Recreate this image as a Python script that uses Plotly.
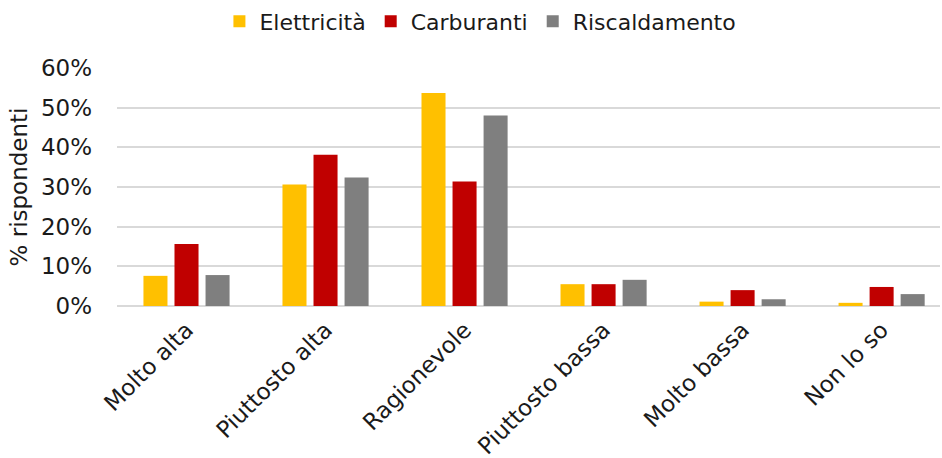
import plotly.graph_objects as go

categories = ["Molto alta", "Piuttosto alta", "Ragionevole", "Piuttosto bassa", "Molto bassa", "Non lo so"]
series_names = ["Elettricità", "Carburanti", "Riscaldamento"]
elettricita = [0.076, 0.306, 0.537, 0.055, 0.011, 0.008]
carburanti = [0.156, 0.381, 0.314, 0.055, 0.040, 0.048]
riscaldamento = [0.078, 0.324, 0.480, 0.066, 0.017, 0.030]
colors = ["#FFC000", "#C00000", "#7F7F7F"]
y_ticks = [0, 0.1, 0.2, 0.3, 0.4, 0.5, 0.6]
y_ticklabels = ["0%", "10%", "20%", "30%", "40%", "50%", "60%"]

FONT = "DejaVu Sans, Liberation Sans, Arial, sans-serif"
FS = 23

fig = go.Figure()
for name, vals, col in zip(series_names, [elettricita, carburanti, riscaldamento], colors):
    fig.add_trace(go.Bar(name=name, x=categories, y=vals, marker=dict(color=col, line=dict(width=0))))

fig.update_layout(
    width=942, height=458,
    paper_bgcolor="white", plot_bgcolor="white",
    margin=dict(l=117, r=2, t=68, b=152),
    barmode="group", bargap=0.33, bargroupgap=0.226,
    font=dict(family=FONT, size=FS, color="#1a1a1a"),
    legend=dict(orientation="h", xref="container", yref="container", x=0.51, y=0.953,
                xanchor="center", yanchor="middle", font=dict(size=22), traceorder="normal",
                itemwidth=30),
    xaxis=dict(tickangle=-45, range=[-0.5, 5.42], showgrid=False, showline=False, ticks="",
               tickfont=dict(size=FS), ticklabelshift=0, ticklabelstandoff=5, automargin=False),
    yaxis=dict(range=[0, 0.6], tickvals=y_ticks, ticktext=y_ticklabels, showgrid=True,
               gridcolor="#D9D9D9", gridwidth=1.5, zeroline=True, zerolinecolor="#D9D9D9",
               zerolinewidth=1.5, showline=False, ticks="", ticklabelstandoff=24,
               title=dict(text="% rispondenti", font=dict(size=FS), standoff=6),
               tickfont=dict(size=FS), automargin=False),
)

fig.write_html("out.html")
